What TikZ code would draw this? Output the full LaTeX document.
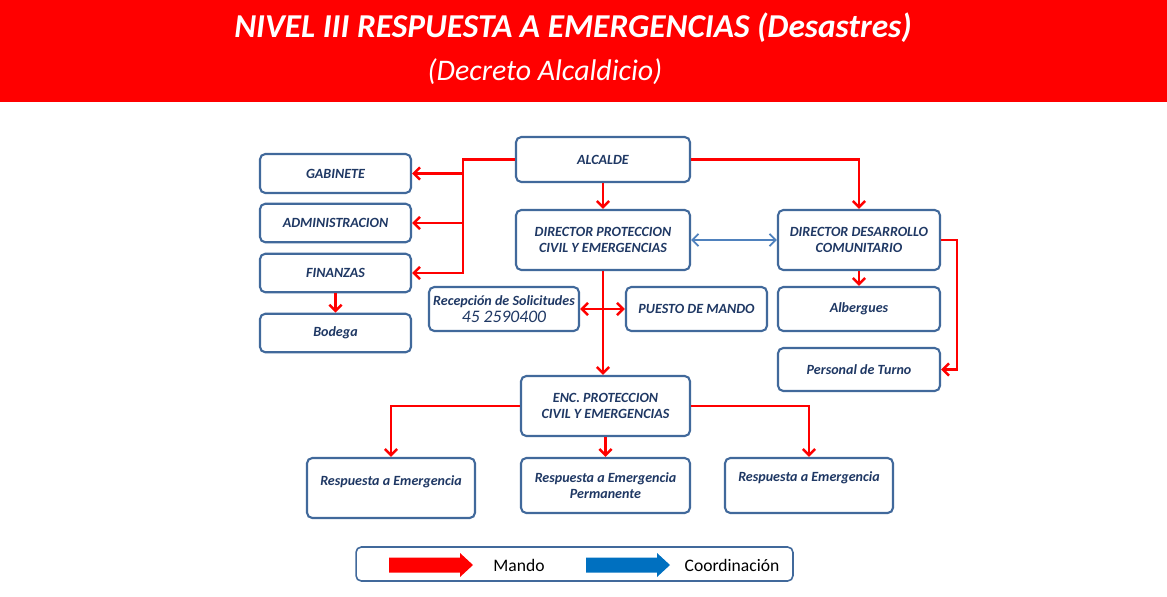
\documentclass[tikz,border=0pt]{standalone}
\usepackage{fontspec}
\setmainfont{Carlito}
\usepackage{xcolor}
\usetikzlibrary{arrows.meta}
\definecolor{mred}{RGB}{255, 0, 0}
\definecolor{navy}{RGB}{31, 56, 100}
\definecolor{frame}{RGB}{65, 105, 155}
\definecolor{coord}{RGB}{79, 129, 189}
\definecolor{legblue}{RGB}{0, 112, 192}

\begin{document}
\begin{tikzpicture}[
    x=0.02cm, y=-0.02cm,
    box/.style={
        draw=frame,
        line width=1.2pt,
        rounded corners=3pt,
        fill=white,
        text=navy,
        font=\fontsize{8}{9.5}\selectfont\bfseries\itshape,
        align=center,
        inner sep=2pt
    },
    mando/.style={
        draw=mred,
        line width=1.4pt,
        -{Straight Barb[length=3.5pt,width=7pt]}
    },
    coordina/.style={
        draw=coord,
        line width=1pt,
        {Straight Barb[length=3.5pt,width=7pt]}-{Straight Barb[length=3.5pt,width=7pt]}
    },
    titulo/.style={text=white, font=\fontsize{17}{20}\selectfont\itshape},
    leyenda/.style={font=\fontsize{10}{12}\selectfont, text=black}
]
\useasboundingbox (0,0) rectangle (1167,596);

% === Banner ===
\fill[mred] (0,0) rectangle (1167,102);
\node[titulo, font=\fontsize{19}{22}\selectfont\bfseries\itshape] (tit1) at (573,28) {NIVEL III RESPUESTA A EMERGENCIAS (Desastres)};
\node[titulo] (tit2) at (545,72) {(Decreto Alcaldicio)};

% === Top level ===
\node[box, minimum width=3.48cm, minimum height=0.9cm] (alcalde) at (603,159.5) {ALCALDE};
\node[box, minimum width=3.02cm, minimum height=0.78cm] (gabinete) at (335.5,173.5) {GABINETE};
\node[box, minimum width=3.02cm, minimum height=0.77cm] (admin) at (335.5,223) {ADMINISTRACION};
\node[box, minimum width=3.02cm, minimum height=0.77cm] (finanzas) at (335.5,273) {FINANZAS};
\node[box, minimum width=3.02cm, minimum height=0.77cm] (bodega) at (335.5,333) {Bodega};

% === Directors ===
\node[box, minimum width=3.48cm, minimum height=1.2cm] (dirprot) at (603,240) {DIRECTOR PROTECCION\\CIVIL Y EMERGENCIAS};
\node[box, minimum width=3.24cm, minimum height=1.2cm] (dirdes) at (859,240) {DIRECTOR DESARROLLO\\COMUNITARIO};
\node[box, minimum width=3.24cm, minimum height=0.88cm] (albergues) at (859,309) {Albergues};
\node[box, minimum width=3.24cm, minimum height=0.86cm] (turno) at (859,369.5) {Personal de Turno};
\node[box, minimum width=3.0cm, minimum height=0.88cm] (recep) at (504,309) {Recepción de Solicitudes\\{\fontsize{10}{12}\selectfont\mdseries 45 2590400}};
\node[box, minimum width=2.82cm, minimum height=0.88cm] (puesto) at (696.5,309) {PUESTO DE MANDO};

% === Encargado ===
\node[box, minimum width=3.38cm, minimum height=1.2cm] (enc) at (605.5,406) {ENC. PROTECCION\\CIVIL Y EMERGENCIAS};
\node[box, minimum width=3.36cm, minimum height=1.2cm, text depth=8pt] (resp1) at (391,488) {Respuesta a Emergencia};
\node[box, minimum width=3.38cm, minimum height=1.1cm] (resp2) at (605.5,485.5) {Respuesta a Emergencia\\Permanente};
\node[box, minimum width=3.36cm, minimum height=1.1cm, text depth=10.6pt] (resp3) at (809,485.5) {Respuesta a Emergencia};

% === Arrows ===
\coordinate (jL) at (463,159.5);
\coordinate (jR) at (957,240);
\draw[mando] (alcalde.west) -- (jL) -- (jL |- finanzas.east) -- (finanzas.east);
\draw[mando] (jL |- gabinete.east) -- (gabinete.east);
\draw[mando] (jL |- admin.east) -- (admin.east);
\draw[mando] (finanzas.south) -- (bodega.north);
\draw[mando] (alcalde.south) -- (dirprot.north);
\draw[mando] (alcalde.east) -| (dirdes.north);
\draw[coordina] (dirprot.east) -- (dirdes.west);
\draw[mando] (dirdes.south) -- (albergues.north);
\draw[mando] (dirdes.east) -- (jR) |- (turno.east);
\draw[mando] (dirprot.south) -- (dirprot.south |- enc.north);
\draw[mando, {Straight Barb[length=3.5pt,width=7pt]}-{Straight Barb[length=3.5pt,width=7pt]}] (recep.east) -- (puesto.west);
\draw[mando] (enc.west) -| (resp1.north);
\draw[mando] (enc.south) -- (enc.south |- resp2.north);
\draw[mando] (enc.east) -| (resp3.north);

% === Legend ===
\node[draw=frame, line width=0.9pt, rounded corners=3pt, minimum width=8.74cm, minimum height=0.68cm] (legend) at (574.5,564) {};
\coordinate (mandoArrow) at (389,565);
\coordinate (coordArrow) at (586,565);
\fill[mred] (mandoArrow) ++(0,-7.5) -- ++(71,0) -- ++(0,-4.5) -- ++(13,12) -- ++(-13,12) -- ++(0,-4.5) -- ++(-71,0) -- cycle;
\fill[legblue] (coordArrow) ++(0,-7.5) -- ++(71,0) -- ++(0,-4.5) -- ++(13,12) -- ++(-13,12) -- ++(0,-4.5) -- ++(-71,0) -- cycle;
\node[leyenda] (lmando) at (519,565) {Mando};
\node[leyenda] (lcoord) at (732,565) {Coordinación};

\end{tikzpicture}
\end{document}
